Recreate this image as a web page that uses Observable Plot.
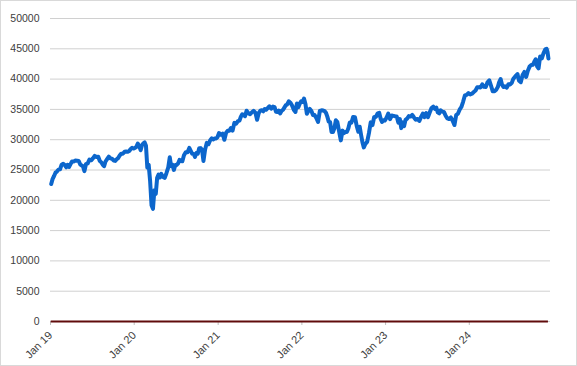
<!DOCTYPE html>
<html>
<head>
<meta charset="utf-8">
<script src="https://cdn.jsdelivr.net/npm/d3@7"></script>
<script src="https://cdn.jsdelivr.net/npm/@observablehq/plot@0.6"></script>
<style>
  html, body { margin: 0; padding: 0; background: #fff; }
  #chart svg { display: block; outline: 1px solid #d9d9d9; outline-offset: -1px; }
</style>
</head>
<body>
<div id="chart"></div>
<script>
// Weekly closes, grouped by month (Jan..Dec) for each year
const y2019 = [
  [22690, 23530, 24010, 24560, 24740],
  [25060, 25110, 25880, 26030],
  [25820, 25450, 25850, 25500, 25930],
  [26420, 26410, 26560, 26540],
  [26500, 25940, 25760, 25590, 24820],
  [25980, 26090, 26720, 26600],
  [26920, 27330, 27150, 27190],
  [26480, 26290, 25890, 25630, 26400],
  [26800, 27220, 26930, 26820],
  [26570, 26500, 26770, 26960, 27340],
  [27680, 27680, 28000, 28050],
  [28020, 28140, 28460, 28650, 28540]
];
const y2020 = [
  [28630, 28820, 29350, 28990, 28260],
  [29100, 29400, 29550, 28990, 25410],
  [25860, 23190, 19170, 18590, 21640],
  [21050, 23720, 24240, 23780, 24350],
  [23880, 23690, 24470, 25380],
  [27110, 25610, 25870, 25020, 25810],
  [25830, 26080, 26670, 26470, 26430],
  [27430, 27930, 27930, 28650],
  [28130, 27670, 27660, 27170, 27780],
  [27680, 28590, 28610, 28340, 26500],
  [28320, 29480, 29260, 29910],
  [30220, 30050, 30180, 30200, 30410]
];
const y2021 = [
  [31100, 30810, 30990, 29980],
  [31150, 31460, 31490, 31930],
  [31500, 32780, 32630, 33070],
  [33150, 33800, 34200, 34040, 33870],
  [34780, 34380, 34210, 34530],
  [34760, 34480, 33290, 34430],
  [34790, 34870, 34690, 35060, 34940],
  [35210, 35520, 35120, 35460],
  [35370, 34610, 34580, 34800, 34330],
  [34750, 34910, 35290, 35680, 35820],
  [36330, 36100, 35600, 34900],
  [34580, 35970, 35370, 35950, 36340]
];
const y2022 = [
  [36230, 36800, 35910, 34270, 34720],
  [35090, 34740, 34080, 34060],
  [33610, 32950, 34750, 34860],
  [34820, 34720, 34450, 33810, 32980],
  [32900, 31260, 31260, 31880, 33210],
  [32900, 31390, 29890, 31500],
  [31100, 31290, 31290, 31900, 32850],
  [32800, 33760, 33710, 32280],
  [31320, 32150, 30820, 29590, 28730],
  [29300, 29630, 31080, 32860],
  [32400, 33750, 33750, 34350],
  [34430, 33480, 32920, 33200, 33150]
];
const y2023 = [
  [33630, 34300, 33380, 33980],
  [33930, 33870, 33830, 32820],
  [33390, 31910, 32860, 32240, 33270],
  [33480, 33890, 33810, 34100],
  [33670, 33300, 33430, 33090],
  [33760, 34300, 33730, 34410],
  [33730, 34510, 35230, 35460],
  [35070, 35280, 34500, 34350, 34840],
  [34640, 34580, 33960, 33510],
  [33410, 33670, 33130, 32420],
  [34060, 34280, 34950, 35390],
  [36250, 37300, 37390, 37690]
];
const y2024 = [
  [37470, 37590, 37860, 38110],
  [38650, 38670, 38630, 39130],
  [38720, 38710, 39480, 39810],
  [38900, 37980, 37990, 38240],
  [38680, 39510, 40000, 39070, 38690],
  [38800, 38590, 39150, 39120],
  [39380, 40000, 40290, 40590, 40840],
  [39740, 39500, 40660, 41180],
  [40350, 41390, 42060, 42310],
  [42350, 42860, 43280, 42110, 41760],
  [43730, 43440, 44300, 44910],
  [45010, 44500, 43400]
];
const years = [2019, 2020, 2021, 2022, 2023, 2024];
const yearData = [y2019, y2020, y2021, y2022, y2023, y2024];
const lastDay = new Date(Date.UTC(2024, 11, 13)); // series ends mid-December 2024

const xTicks = ["2019-01-01", "2020-01-01", "2021-01-01", "2022-01-01", "2023-01-01", "2024-01-01"];
const xTickLabels = ["Jan 19", "Jan 20", "Jan 21", "Jan 22", "Jan 23", "Jan 24"];
const yTicks = [0, 5000, 10000, 15000, 20000, 25000, 30000, 35000, 40000, 45000, 50000];

// place each month's weekly values evenly inside that month
const data = [];
yearData.forEach((months, yi) => {
  months.forEach((vals, m) => {
    const start = new Date(Date.UTC(years[yi], m, 1));
    let end = new Date(Date.UTC(years[yi], m + 1, 1));
    if (end > lastDay) end = lastDay;
    const step = (end - start) / vals.length;
    vals.forEach((v, i) => data.push({date: new Date(+start + step * (i + 0.5)), value: v}));
  });
});

const tickDates = xTicks.map(d => new Date(d));
const labelOf = new Map(tickDates.map((d, i) => [+d, xTickLabels[i]]));

const chart = Plot.plot({
  width: 577,
  height: 366,
  marginTop: 18,
  marginBottom: 45,
  marginLeft: 50,
  marginRight: 27,
  style: {fontFamily: "'Liberation Sans', Arial, sans-serif", fontSize: "10.5px", color: "#404040", background: "#fff"},
  x: {type: "utc", domain: [new Date("2019-01-01"), new Date("2024-12-20")]},
  y: {domain: [0, 50000]},
  marks: [
    Plot.gridY(yTicks, {stroke: "#d0d0d0", strokeOpacity: 1}),
    Plot.axisY(yTicks, {tickSize: 0, tickPadding: 11, tickFormat: d3.format("d"), label: null, fill: "#404040"}),
    Plot.axisX(tickDates, {tickSize: 4, stroke: "#bfbfbf", tickFormat: d => labelOf.get(+d), tickRotate: -45, label: null, fill: "#404040", fontSize: 11}),
    Plot.ruleY([0], {x1: data[0].date, x2: data[data.length - 1].date, stroke: "#600b0b", strokeWidth: 2.2}),
    Plot.line(data, {x: "date", y: "value", stroke: "#0c66cc", strokeWidth: 4, strokeLinejoin: "round"})
  ]
});
document.getElementById("chart").appendChild(chart);
</script>
</body>
</html>
